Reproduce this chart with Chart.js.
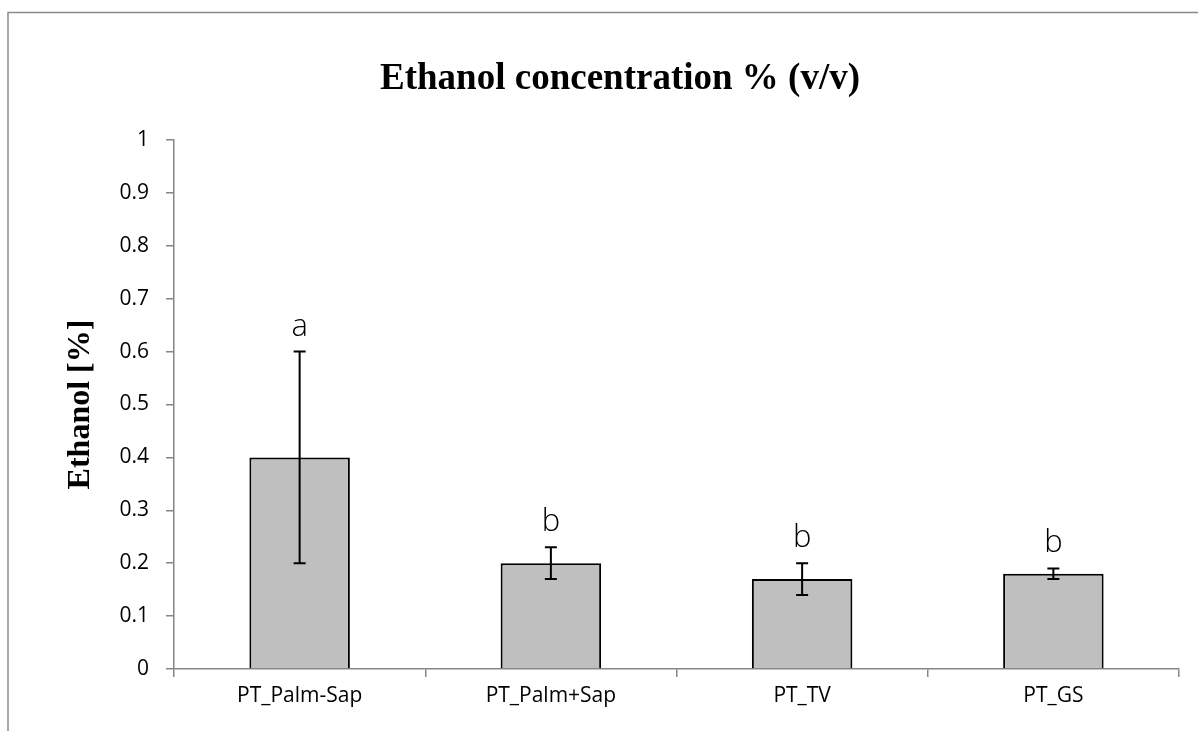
<!DOCTYPE html>
<html>
<head>
<meta charset="utf-8">
<script src="https://cdn.jsdelivr.net/npm/chart.js@4"></script>
<style>
html,body{margin:0;padding:0;background:#fff;}
#wrap{position:relative;width:1198px;height:731px;}
canvas{position:absolute;left:0;top:0;}
</style>
</head>
<body>
<div id="wrap"><canvas id="c" width="1198" height="731"></canvas></div>
<script>
const categories = ["PT_Palm-Sap", "PT_Palm+Sap", "PT_TV", "PT_GS"];
const ethanolMeans = [0.40, 0.20, 0.17, 0.18];
const ethanolErrors = [0.20, 0.03, 0.03, 0.01];
const groupLetters = ["a", "b", "b", "b"];
const yTicks = [0, 0.1, 0.2, 0.3, 0.4, 0.5, 0.6, 0.7, 0.8, 0.9, 1];
const chartTitle = 'Ethanol concentration % (v/v)';

const axisGray = '#868686';

const frame = {
  id: 'frame',
  beforeDraw(chart) {
    const ctx = chart.ctx;
    ctx.save();
    ctx.strokeStyle = '#8a8a8a';
    ctx.lineWidth = 1.5;
    ctx.beginPath();
    ctx.moveTo(8, 740);
    ctx.lineTo(8, 12.5);
    ctx.lineTo(1210, 12.5);
    ctx.stroke();
    ctx.fillStyle = '#000';
    ctx.font = 'bold 37px "Liberation Serif", "Times New Roman", serif';
    ctx.textAlign = 'center';
    ctx.textBaseline = 'alphabetic';
    ctx.fillText(chartTitle, 620, 89);
    ctx.restore();
  }
};

const errorBars = {
  id: 'errorBars',
  afterDatasetsDraw(chart) {
    const ctx = chart.ctx;
    const y = chart.scales.y;
    const meta = chart.getDatasetMeta(0);
    ctx.save();
    meta.data.forEach((bar, i) => {
      const m = ethanolMeans[i], e = ethanolErrors[i];
      const yt = y.getPixelForValue(m + e);
      const yb = y.getPixelForValue(m - e);
      const x = bar.x;
      ctx.strokeStyle = '#000';
      ctx.lineWidth = 2;
      ctx.beginPath();
      ctx.moveTo(x, yt); ctx.lineTo(x, yb);
      ctx.moveTo(x - 6, yt); ctx.lineTo(x + 6, yt);
      ctx.moveTo(x - 6, yb); ctx.lineTo(x + 6, yb);
      ctx.stroke();
      ctx.fillStyle = '#000';
      ctx.font = '300 31px "Open Sans"';
      ctx.textAlign = 'center';
      ctx.textBaseline = 'alphabetic';
      ctx.fillText(groupLetters[i], x, yt - 16);
    });
    ctx.restore();
  }
};

new Chart(document.getElementById('c'), {
  type: 'bar',
  data: {
    labels: categories,
    datasets: [{
      data: ethanolMeans,
      backgroundColor: '#bfbfbf',
      borderColor: '#000',
      borderWidth: 2,
      barPercentage: 0.8,
      categoryPercentage: 0.5
    }]
  },
  options: {
    responsive: false,
    animation: false,
    devicePixelRatio: 1,
    layout: { padding: { left: 0, right: 19, top: 140, bottom: 0 } },
    plugins: {
      legend: { display: false },
      tooltip: { enabled: false },
      title: { display: false }
    },
    scales: {
      x: {
        grid: { display: true, drawOnChartArea: false, drawTicks: true, tickLength: 8, color: axisGray, lineWidth: 1.5, offset: true },
        border: { display: true, color: axisGray, width: 1.5 },
        ticks: { color: '#000', font: { family: '"Open Sans", sans-serif', size: 21 }, padding: 6, maxRotation: 0 },
        afterFit(scale) { scale.height = 62; }
      },
      y: {
        min: 0, max: 1,
        afterBuildTicks(scale) { scale.ticks = yTicks.map(v => ({ value: v })); },
        grid: { display: true, drawOnChartArea: false, drawTicks: true, tickLength: 8, color: axisGray, lineWidth: 1.5 },
        border: { display: true, color: axisGray, width: 1.5 },
        ticks: { color: '#000', font: { family: '"Open Sans", sans-serif', size: 21 }, padding: 17,
          callback: (v) => String(Math.round(v * 10) / 10) },
        title: {
          display: true,
          text: 'Ethanol [%]',
          color: '#000',
          font: { family: '"Liberation Serif", "Times New Roman", serif', size: 32, weight: 'bold', lineHeight: 1.2 },
          padding: { top: 62, bottom: 0 }
        },
        afterFit(scale) { scale.width = 174; }
      }
    }
  },
  plugins: [frame, errorBars]
});
</script>
</body>
</html>
